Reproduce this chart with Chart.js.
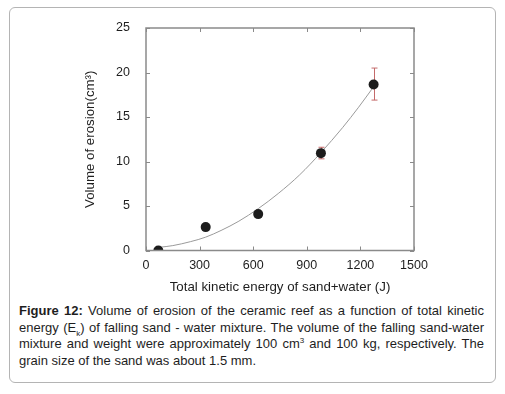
<!DOCTYPE html>
<html>
<head>
<meta charset="utf-8">
<script src="https://cdn.jsdelivr.net/npm/chart.js@4"></script>
<style>
  html, body { margin: 0; padding: 0; background: #fff; }
  body { width: 505px; height: 394px; position: relative; overflow: hidden; font-family: "Liberation Sans", Arial, sans-serif; }
  #box { position: absolute; left: 9px; top: 7px; width: 485px; height: 374px; border: 1px solid #b4b4b4; border-radius: 6px; }
  #chart { position: absolute; left: 0; top: 0; }
  #caption { position: absolute; left: 19px; top: 303px; width: 465px; font-size: 13px; line-height: 16.7px; color: #1e1e1e; text-align: justify; }
  #caption sup, #caption sub { font-size: 8px; line-height: 0; }
</style>
</head>
<body>
<div id="box"></div>
<canvas id="chart" width="505" height="300"></canvas>
<div id="caption"><b>Figure 12:</b> Volume of erosion of the ceramic reef as a function of total kinetic energy (E<sub>k</sub>) of falling sand - water mixture. The volume of the falling sand-water mixture and weight were approximately 100 cm<sup>3</sup> and 100 kg, respectively. The grain size of the sand was about 1.5 mm.</div>

<script>
// measured points
const energy = [69, 334, 628, 979, 1274];
const erosion = [0, 2.63, 4.09, 10.94, 18.65];
const errLow = [0, 0, 0, 10.3, 16.9];
const errHigh = [0, 0, 0, 11.6, 20.5];

// fitted curve
const fitEnergy = [75, 150, 250, 334, 420, 520, 628, 740, 860, 979, 1100, 1190, 1274];
const fitErosion = [0.36, 0.55, 1.0, 1.5, 2.25, 3.3, 4.7, 6.4, 8.5, 11.0, 13.8, 16.1, 18.4];

const xTicks = [0, 300, 600, 900, 1200, 1500];
const yTicks = [0, 5, 10, 15, 20, 25];

const AXIS_COLOR = "#8a8a8a";

const framePlugin = {
    id: "frame",
    beforeDatasetsDraw(chart) {
        const ctx = chart.ctx;
        const xs = chart.scales.x;
        const ys = chart.scales.y;
        ctx.save();
        ctx.strokeStyle = "#c46a6a";
        ctx.lineWidth = 1;
        energy.forEach((e, i) => {
            if (errHigh[i] <= errLow[i]) return;
            const px = Math.round(xs.getPixelForValue(e)) + 0.5;
            const top = ys.getPixelForValue(errHigh[i]);
            const bot = ys.getPixelForValue(errLow[i]);
            ctx.beginPath();
            ctx.moveTo(px, top);
            ctx.lineTo(px, bot);
            ctx.moveTo(px - 3, top);
            ctx.lineTo(px + 3, top);
            ctx.moveTo(px - 3, bot);
            ctx.lineTo(px + 3, bot);
            ctx.stroke();
        });
        ctx.restore();
    },
    afterDraw(chart) {
        const ctx = chart.ctx;
        const a = chart.chartArea;
        const xs = chart.scales.x;
        const ys = chart.scales.y;
        ctx.save();
        ctx.strokeStyle = AXIS_COLOR;
        ctx.lineWidth = 1.5;
        ctx.strokeRect(a.left, a.top, a.right - a.left, a.bottom - a.top);
        ctx.lineWidth = 1;
        ctx.beginPath();
        xTicks.forEach(v => {
            const px = Math.round(xs.getPixelForValue(v)) + 0.5;
            ctx.moveTo(px, a.bottom);
            ctx.lineTo(px, a.bottom - 4);
            ctx.moveTo(px, a.top);
            ctx.lineTo(px, a.top + 4);
        });
        yTicks.forEach(v => {
            const py = Math.round(ys.getPixelForValue(v)) + 0.5;
            ctx.moveTo(a.left, py);
            ctx.lineTo(a.left + 4, py);
            ctx.moveTo(a.right, py);
            ctx.lineTo(a.right - 4, py);
        });
        ctx.stroke();
        ctx.restore();
    }
};

const font = { family: "'Liberation Sans', Arial, sans-serif", size: 12.5 };
const titleFont = { family: "'Liberation Sans', Arial, sans-serif", size: 13.3 };

new Chart(document.getElementById("chart"), {
    type: "scatter",
    data: {
        datasets: [
            {
                data: energy.map((e, i) => ({ x: e, y: erosion[i] })),
                backgroundColor: "#1c1c1c",
                borderWidth: 0,
                pointRadius: 5,
                showLine: false
            },
            {
                data: fitEnergy.map((e, i) => ({ x: e, y: fitErosion[i] })),
                showLine: true,
                borderColor: "#9a9a9a",
                borderWidth: 1,
                pointRadius: 0,
                cubicInterpolationMode: "monotone"
            }
        ]
    },
    options: {
        responsive: false,
        animation: false,
        layout: { padding: { left: 0, right: 91, top: 28, bottom: 0 } },
        plugins: {
            legend: { display: false },
            tooltip: { enabled: false }
        },
        scales: {
            x: {
                type: "linear",
                min: 0,
                max: 1500,
                afterBuildTicks: s => { s.ticks = xTicks.map(v => ({ value: v })); },
                afterFit: s => { s.height = 49.5; },
                grid: { display: false },
                border: { display: false },
                ticks: { color: "#1e1e1e", font: font, padding: 0, maxRotation: 0, callback: v => String(v) },
                title: {
                    display: true,
                    text: "Total kinetic energy of sand+water (J)",
                    color: "#1e1e1e",
                    font: titleFont,
                    padding: { top: 0, bottom: 5 }
                }
            },
            y: {
                type: "linear",
                min: 0,
                max: 25,
                afterBuildTicks: s => { s.ticks = yTicks.map(v => ({ value: v })); },
                afterFit: s => { s.width = 146; },
                grid: { display: false },
                border: { display: false },
                ticks: { color: "#1e1e1e", font: font, padding: 8 },
                title: {
                    display: true,
                    text: "Volume of erosion(cm³)",
                    color: "#1e1e1e",
                    font: titleFont,
                    padding: { top: 82, bottom: 0 }
                }
            }
        }
    },
    plugins: [framePlugin]
});
</script>
</body>
</html>
